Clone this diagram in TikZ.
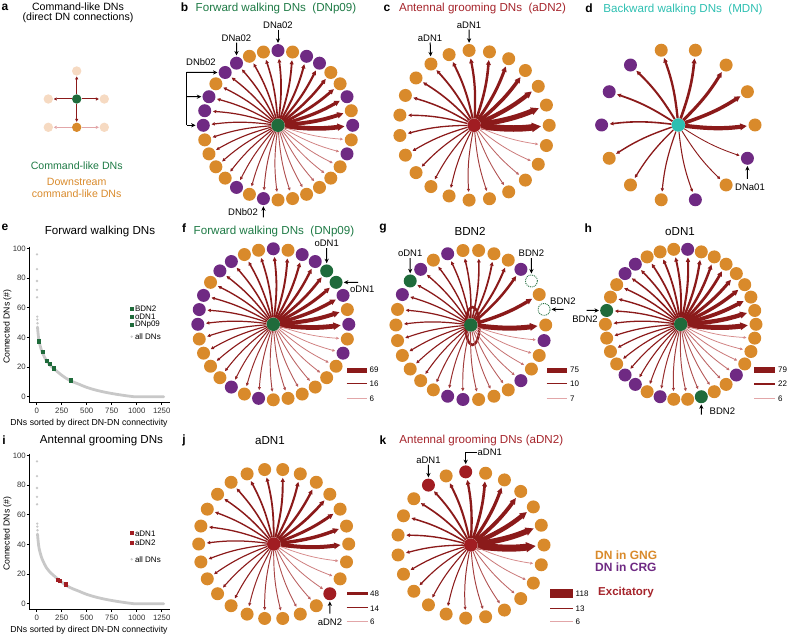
\documentclass[tikz,border=0pt]{standalone}
\usepackage{fontspec}
\setmainfont{Liberation Sans}
\usetikzlibrary{arrows.meta}
\definecolor{cOr}{HTML}{D98A2B}
\definecolor{cPu}{HTML}{6F2A83}
\definecolor{cGr}{HTML}{1F6B3B}
\definecolor{cRd}{HTML}{A11D22}
\definecolor{cTe}{HTML}{2DBFB1}
\definecolor{cEd}{HTML}{8B1A1A}
\definecolor{cPeach}{HTML}{F6DAC2}
\definecolor{cPinkE}{HTML}{E2A6A8}
\definecolor{cPinkL}{HTML}{EFB0B0}
\definecolor{cTGr}{HTML}{1E7A45}
\definecolor{cTRd}{HTML}{A5242B}
\definecolor{cGray}{HTML}{C8C8C8}
\definecolor{cTick}{HTML}{333333}
\newcount\edgerank
% ring of nodes: #1 prefix, #2 cx, #3 cy, #4 r, #5 n, #6 colour letters
\newcommand\ringnodes[6]{%
  \foreach \col [count=\k from 0] in {#6} {
    \pgfmathsetmacro\ang{360*\k/#5}
    \node[ringnode, rns\col] (#1-\k) at ({#2+#4*cos(\ang)},{#3-#4*sin(\ang)}) {};
  }}
% edges: #1 prefix, #2 n, #3 colours, #4 wmax, #5 tau, #6 pink start, #7 bend
\newcommand\ringedges[7]{%
  \global\edgerank=0
  \foreach \col [count=\k from 0] in {#3} {
    \if\col x\else
      \pgfmathsetmacro\w{0.75+0.85*(1-\the\edgerank/(#2-1))+(#4-1.6)*exp(-\the\edgerank/#5)}
      \pgfmathtruncatemacro\pc{\the\edgerank<#6 ? 100 : 100-75*(\the\edgerank-#6)/max(1,(#2-1-#6))}
      \colorlet{ec}{cEd!\pc!cPinkL}
      \draw[dnedge, line width=\w pt, draw=ec] (#1c) to[bend right=#7] (#1-\k);
      \global\advance\edgerank by 1
    \fi
  }}
\newcommand\scatpanel[2]{%
  \begin{scope}[shift={(0,#2)}]
    \draw[axisln] (29.3,246.7) -- (29.3,402.3) -- (170,402.3);
    \foreach \v [count=\q] in {0,20,40,60,80,100} {
      \pgfmathsetmacro\yy{396.7-1.483*\v}
      \draw[axisln] (26.5,\yy) -- (29.3,\yy);
      \node[tick, anchor=east] (#1y\q) at (26,\yy) {\v};
    }
    \foreach \u [count=\q] in {0,250,500,750,1000,1250} {
      \pgfmathsetmacro\xx{36.7+0.1*\u}
      \draw[axisln] (\xx,402.3) -- (\xx,405.1);
      \node[tick] (#1x\q) at (\xx,410.7) {\u};
    }
    \node[axl] (#1xl) at (89,423.5) {DNs sorted by direct DN-DN connectivity};
    \node[axl, rotate=90] (#1yl) at (7.3,326.7) {Connected DNs (\#)};
    \begin{scope}[shift={(36.7,396.7)}, x=0.1pt, y=1.483pt]
      \draw[band] plot[smooth, tension=0.6] coordinates {(8,47) (15,42) (25,37) (55,30) (100,24) (130,21.5) (170,19) (250,14.5) (330,11) (420,8.5) (500,6.3) (600,4.3) (700,2.8) (800,1.6) (900,0.6) (960,0.1) (1000,0) (1270,0)};
      \foreach \u/\v [count=\q] in {3/96,3/86,3/78,3/72,4/67,6/54,6/52,8/49.5}
        \node[gdot] (#1d\q) at (\u,\v) {};
    \end{scope}
  \end{scope}}
\begin{document}
\begin{tikzpicture}[x=1pt,y=-1pt,
  ringnode/.style={circle, inner sep=0pt, minimum size=13pt},
  rnso/.style={fill=cOr}, rnsp/.style={fill=cPu}, rnsg/.style={fill=cGr}, rnsr/.style={fill=cRd},
  rnsx/.style={fill=white, draw=cGr, densely dotted, line width=0.9pt, minimum size=12pt},
  ctr/.style={circle, inner sep=0pt, minimum size=13.5pt},
  dnedge/.style={-{Triangle[length=2pt 1.1, width=1.8pt 1.1]}, shorten >=1.5pt},
  ttl/.style={font=\fontsize{11.6}{13}\selectfont, inner sep=0pt},
  plet/.style={font=\bfseries\fontsize{12}{13}\selectfont, inner sep=0pt},
  lbl/.style={font=\fontsize{9.5}{11}\selectfont, inner sep=1pt},
  arr/.style={-{Stealth[length=4.5pt,width=4.2pt]}, line width=1pt, black, shorten >=1pt},
  anode/.style={circle, inner sep=0pt, minimum size=9.4pt},
  aedge/.style={-{Triangle[length=3pt,width=3pt]}, line width=1pt, shorten >=0.5pt},
  axisln/.style={line width=0.6pt, black},
  tick/.style={font=\fontsize{7.8}{9}\selectfont, text=cTick, inner sep=0pt},
  axl/.style={font=\fontsize{8.7}{10}\selectfont, inner sep=0pt},
  band/.style={cGray, line width=2.8pt, line cap=round, line join=round},
  gdot/.style={circle, fill=cGray, inner sep=0pt, minimum size=2.6pt},
  sq/.style={rectangle, inner sep=0pt, minimum size=4.3pt},
  leg/.style={font=\fontsize{8}{9}\selectfont, inner sep=0pt},
  num/.style={font=\fontsize{8}{9}\selectfont, inner sep=0pt, anchor=west},
  bigleg/.style={font=\bfseries\fontsize{12}{13}\selectfont, inner sep=0pt, anchor=west}]
\useasboundingbox (0,0) rectangle (790,636);

% ---------- panel letters ----------
\node[plet] (La) at (5,7) {a};
\node[plet] (Lb) at (184.5,7) {b};
\node[plet] (Lc) at (387,8) {c};
\node[plet] (Ld) at (589,8) {d};
\node[plet] (Le) at (5,227) {e};
\node[plet] (Lf) at (184,228) {f};
\node[plet] (Lg) at (383,229) {g};
\node[plet] (Lh) at (588.3,228.3) {h};
\node[plet] (Li) at (4,440) {i};
\node[plet] (Lj) at (184,440) {j};
\node[plet] (Lk) at (383,440) {k};

% ---------- panel a ----------
\node[font=\fontsize{10.6}{12}\selectfont, inner sep=0pt] (at1) at (78,7) {Command-like DNs};
\node[font=\fontsize{10.6}{12}\selectfont, inner sep=0pt] (at2) at (78,17.5) {(direct DN connections)};
\node[anode, fill=cPeach] (aT) at (76.7,71) {};
\node[anode, fill=cPeach] (aL) at (48.3,99) {};
\node[anode, fill=cPeach] (aR) at (104.3,99) {};
\node[anode, fill=cPeach] (aBL) at (48.3,127.3) {};
\node[anode, fill=cPeach] (aBR) at (104.3,127.3) {};
\node[anode, fill=cGr] (aG) at (76.7,99) {};
\node[anode, fill=cOr] (aO) at (76.7,127.3) {};
\draw[aedge, cEd] (aG) -- (aT);
\draw[aedge, cEd] (aG) -- (aL);
\draw[aedge, cEd] (aG) -- (aR);
\draw[aedge, cEd] (aG) -- (aO);
\draw[aedge, cPinkE] (aO) -- (aBL);
\draw[aedge, cPinkE] (aO) -- (aBR);
\node[font=\fontsize{10.6}{12}\selectfont, text=cTGr, inner sep=0pt] (at3) at (76.7,166) {Command-like DNs};
\node[font=\fontsize{10.6}{12}\selectfont, text=cOr, inner sep=0pt] (at4) at (76.7,182) {Downstream};
\node[font=\fontsize{10.6}{12}\selectfont, text=cOr, inner sep=0pt] (at5) at (76.7,194) {command-like DNs};

% ---------- panel b ----------
\node[ttl, text=cTGr] (bt) at (276,8.3) {Forward walking DNs~~(DNp09)};
\node[ctr, fill=cGr] (bc) at (278,125.3) {};
\ringnodes{b}{278}{125.3}{74.7}{32}{p,o,p,o,o,p,p,o,p,o,o,p,p,o,p,p,p,o,o,o,o,p,o,p,o,o,o,o,o,o,p,o}
\ringedges{b}{32}{p,o,p,o,o,p,p,o,p,o,o,p,p,o,p,p,p,o,o,o,o,p,o,p,o,o,o,o,o,o,p,o}{4.6}{3.5}{20}{7}
\node[lbl] (bl1) at (278,25) {DNa02};
\draw[arr] (bl1) -- (b-8);
\node[lbl] (bl2) at (236.5,38) {DNa02};
\draw[arr] (bl2) -- (b-11);
\node[lbl, anchor=west] (bl3) at (185,62.5) {DNb02};
\coordinate (bb1) at (186.7,72.5);
\coordinate (bb2) at (186.7,96.7);
\coordinate (bb3) at (186.7,125.3);
\draw[line width=1pt] (bb1) -- (bb3);
\draw[arr] (bb1) -- (b-12);
\draw[arr] (bb2) -- (b-14);
\draw[arr] (bb3) -- (b-16);
\node[lbl, anchor=east] (bl4) at (259,212) {DNb02};
\coordinate (bb4) at (263.4,217.5);
\draw[arr] (bb4) -- (b-23);

% ---------- panel c ----------
\node[ttl, text=cTRd] (ct) at (482.5,9) {Antennal grooming DNs~~(aDN2)};
\node[ctr, fill=cRd] (cc) at (474.2,125.3) {};
\ringnodes{c}{474.2}{125.3}{75}{23}{o,o,o,o,o,o,o,o,o,o,o,o,o,o,o,o,o,o,o,o,o,o,o}
\ringedges{c}{23}{o,o,o,o,o,o,o,o,o,o,o,o,o,o,o,o,o,o,o,o,o,o,o}{6.5}{3.5}{16}{7}
\node[lbl] (cl1) at (469.1,25) {aDN1};
\draw[arr] (cl1) -- (c-6);
\node[lbl] (cl2) at (430,38) {aDN1};
\draw[arr] (cl2) -- (c-8);

% ---------- panel d ----------
\node[ttl, text=cTe] (dt) at (683,9.3) {Backward walking DNs~~(MDN)};
\node[ctr, fill=cTe] (dc) at (678.3,125) {};
\ringnodes{d}{678.3}{125}{76.7}{14}{o,o,o,o,o,p,p,p,o,o,o,p,o,p}
\ringedges{d}{14}{o,o,o,o,o,p,p,p,o,o,o,p,o,p}{4.2}{4}{13}{7}
\node[lbl] (dl1) at (750,187.5) {DNa01};
\coordinate (da1) at (747.4,179);
\draw[arr] (da1) -- (d-13);

% ---------- panel e ----------
\node[ttl] (et) at (100,232) {Forward walking DNs};
\scatpanel{e}{0}
\begin{scope}[shift={(36.7,396.7)}, x=0.1pt, y=1.483pt]
  \foreach \u/\v [count=\q] in {26/37.2,60/30,106/24,133/22,173/19,340/11}
    \node[sq, fill=cGr] (es\q) at (\u,\v) {};
\end{scope}
\node[sq, fill=cGr] (el1) at (131.7,309) {};
\node[leg, anchor=west] (el1t) at (134.8,309) {BDN2};
\node[sq, fill=cGr] (el2) at (131.7,316.8) {};
\node[leg, anchor=west] (el2t) at (134.8,316.8) {oDN1};
\node[sq, fill=cGr] (el3) at (131.7,325) {};
\node[leg, anchor=west] (el3t) at (134.8,325) {DNp09};
\node[gdot] (el4) at (131.7,336.7) {};
\node[leg, anchor=west] (el4t) at (134.8,336.7) {all DNs};

% ---------- panel f ----------
\node[ttl, text=cTGr] (ft) at (274,231.7) {Forward walking DNs~~(DNp09)};
\node[ctr, fill=cGr] (fc) at (273.3,324.3) {};
\ringnodes{f}{273.3}{324.3}{75.5}{32}{p,o,p,g,g,p,p,o,p,o,o,p,p,o,p,p,p,o,o,o,o,p,o,p,o,o,o,o,o,o,p,o}
\ringedges{f}{32}{p,o,p,g,g,p,p,o,p,o,o,p,p,o,p,p,p,o,o,o,o,p,o,p,o,o,o,o,o,o,p,o}{4.8}{4}{20}{7}
\node[lbl] (fl1) at (326.7,243.5) {oDN1};
\draw[arr] (fl1) -- (f-4);
\node[lbl, anchor=west] (fl2) at (349,289.5) {oDN1};
\coordinate (fa2) at (358,282.3);
\draw[arr] (fa2) -- (f-3);
\fill[cEd] (346.7,367.5) rectangle (366.7,372.5);
\draw[cEd, line width=1.3pt] (346.7,383.3) -- (366.7,383.3);
\draw[cPinkE, line width=1pt] (346.7,398.3) -- (366.7,398.3);
\node[num] (fn1) at (369.5,370) {69};
\node[num] (fn2) at (369.5,383.3) {16};
\node[num] (fn3) at (369.5,398.3) {6};

% ---------- panel g ----------
\node[ttl] (gt) at (470,231.7) {BDN2};
\draw[cEd, line width=2.4pt] (472.5,326) ellipse [x radius=7, y radius=19];
\node[ctr, fill=cGr] (gc) at (470.8,325) {};
\ringnodes{g}{470.8}{325}{74.9}{30}{o,x,o,x,p,o,o,o,o,p,o,p,g,p,o,o,o,o,o,o,o,p,p,o,o,o,p,o,o,p}
\ringedges{g}{28}{o,x,o,x,p,o,o,o,o,p,o,p,g,p,o,o,o,o,o,o,o,p,p,o,o,o,p,o,o,p}{5}{1.6}{17}{7}
\node[lbl] (gl1) at (410.2,253.5) {oDN1};
\draw[arr] (gl1) -- (g-12);
\node[lbl] (gl2) at (531.4,253.5) {BDN2};
\draw[arr] (gl2) -- (g-3);
\node[lbl, anchor=west] (gl3) at (549,300.7) {BDN2};
\coordinate (ga3) at (563.5,309.4);
\draw[arr] (ga3) -- (g-1);
\fill[cEd] (546.7,367.5) rectangle (566.7,372.5);
\draw[cEd, line width=1.3pt] (546.7,383.3) -- (566.7,383.3);
\draw[cPinkE, line width=1pt] (546.7,398.3) -- (566.7,398.3);
\node[num] (gn1) at (570,370) {75};
\node[num] (gn2) at (570,383.3) {10};
\node[num] (gn3) at (570,398.3) {7};

% ---------- panel h ----------
\node[ttl] (ht) at (680,231.7) {oDN1};
\node[ctr, fill=cGr] (hc) at (680.7,324.3) {};
\ringnodes{h}{680.7}{324.3}{75.3}{34}{o,o,o,o,o,o,o,o,p,o,o,o,p,p,o,o,g,o,o,o,o,p,p,o,p,o,o,g,o,o,p,o,o,o}
\ringedges{h}{34}{o,o,o,o,o,o,o,o,p,o,o,o,p,p,o,o,g,o,o,o,o,p,p,o,p,o,o,g,o,o,p,o,o,o}{5}{5}{22}{7}
\node[lbl] (hl1) at (585,319.5) {BDN2};
\coordinate (ha1) at (586.5,310.5);
\draw[arr] (ha1) -- (h-16);
\node[lbl, anchor=west] (hl2) at (708.5,411) {BDN2};
\coordinate (ha2) at (701.3,414.5);
\draw[arr] (ha2) -- (h-27);
\fill[cEd] (754,367.3) rectangle (775,372.7);
\draw[cEd, line width=1.3pt] (754,384) -- (775,384);
\draw[cPinkE, line width=1pt] (754,398.3) -- (775,398.3);
\node[num] (hn1) at (778,370) {79};
\node[num] (hn2) at (778,384) {22};
\node[num] (hn3) at (778,398.3) {6};

% ---------- panel i ----------
\node[ttl] (it) at (101.5,441) {Antennal grooming DNs};
\scatpanel{i}{207}
\begin{scope}[shift={(36.7,603.7)}, x=0.1pt, y=1.483pt]
  \foreach \u/\v [count=\q] in {215/16.2,232/15.3,290/13}
    \node[sq, fill=cRd] (is\q) at (\u,\v) {};
\end{scope}
\node[sq, fill=cRd] (il1) at (131.7,533.3) {};
\node[leg, anchor=west] (il1t) at (134.8,533.3) {aDN1};
\node[sq, fill=cRd] (il2) at (131.7,542.7) {};
\node[leg, anchor=west] (il2t) at (134.8,542.7) {aDN2};
\node[gdot] (il3) at (131.7,559.3) {};
\node[leg, anchor=west] (il3t) at (134.8,559.3) {all DNs};

% ---------- panel j ----------
\node[ttl] (jt) at (270,440.7) {aDN1};
\node[ctr, fill=cRd] (jc) at (273.7,544) {};
\ringnodes{j}{273.7}{544}{75}{26}{o,o,o,o,o,o,o,o,o,o,o,o,o,o,o,o,o,o,o,o,o,o,o,r,o,o}
\ringedges{j}{26}{o,o,o,o,o,o,o,o,o,o,o,o,o,o,o,o,o,o,o,o,o,o,o,r,o,o}{4}{4}{17}{7}
\node[lbl] (jl1) at (329.9,622) {aDN2};
\coordinate (ja1) at (329.9,613.5);
\draw[arr] (ja1) -- (j-23);
\fill[cEd] (346.7,591.5) rectangle (368,595.3);
\draw[cEd, line width=1.3pt] (346.7,607.5) -- (368,607.5);
\draw[cPinkE, line width=1pt] (346.7,621.5) -- (368,621.5);
\node[num] (jn1) at (370,593.3) {48};
\node[num] (jn2) at (370,608.3) {14};
\node[num] (jn3) at (370,621.7) {6};

% ---------- panel k ----------
\node[ttl, text=cTRd] (kt) at (481.3,441) {Antennal grooming DNs (aDN2)};
\node[ctr, fill=cRd] (kc) at (470.7,545) {};
\ringnodes{k}{470.7}{545}{73.3}{23}{o,o,o,o,o,o,r,o,r,o,o,o,o,o,o,o,o,o,o,o,o,o,o}
\ringedges{k}{23}{o,o,o,o,o,o,r,o,r,o,o,o,o,o,o,o,o,o,o,o,o,o,o}{7}{3.5}{16}{7}
\node[lbl] (kl1) at (428.4,460) {aDN1};
\draw[arr] (kl1) -- (k-8);
\node[lbl, anchor=west] (kl2) at (476.5,452.7) {aDN1};
\draw[arr] (kl2.west) -| (k-6);
\fill[cEd] (550,588.8) rectangle (572.7,597.8);
\draw[cEd, line width=1.3pt] (550,608.3) -- (572.7,608.3);
\draw[cPinkE, line width=1pt] (550,621.7) -- (572.7,621.7);
\node[num] (kn1) at (575.5,593.3) {118};
\node[num] (kn2) at (575.5,608.3) {13};
\node[num] (kn3) at (575.5,621.7) {6};
\node[bigleg, text=cOr] (kg1) at (595,555) {DN in GNG};
\node[bigleg, text=cPu] (kg2) at (595,567.5) {DN in CRG};
\node[bigleg, text=cTRd, font=\bfseries\fontsize{11.5}{13}\selectfont] (kg3) at (598,592.7) {Excitatory};
\end{tikzpicture}
\end{document}
